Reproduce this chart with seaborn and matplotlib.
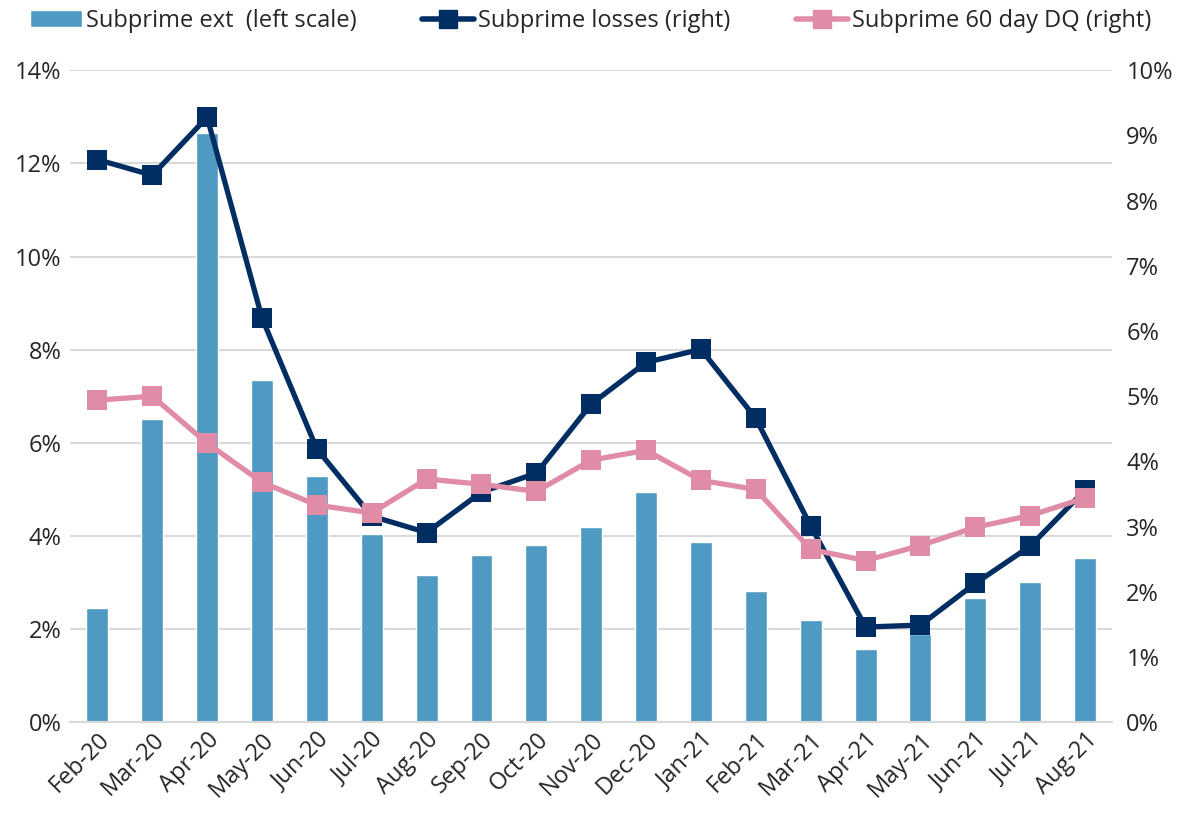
import numpy as np
import pandas as pd
import seaborn as sns
import matplotlib.pyplot as plt
from matplotlib.ticker import FuncFormatter, FixedLocator
from matplotlib.patches import Patch
from matplotlib.lines import Line2D

months = ["Feb-20", "Mar-20", "Apr-20", "May-20", "Jun-20", "Jul-20", "Aug-20",
          "Sep-20", "Oct-20", "Nov-20", "Dec-20", "Jan-21", "Feb-21", "Mar-21",
          "Apr-21", "May-21", "Jun-21", "Jul-21", "Aug-21"]
ext_pct = [2.45, 6.51, 12.65, 7.34, 5.28, 4.04, 3.16, 3.59, 3.80, 4.19, 4.94,
           3.87, 2.81, 2.19, 1.57, 1.90, 2.66, 3.01, 3.52]
loss_pct = [8.63, 8.39, 9.28, 6.20, 4.19, 3.16, 2.91, 3.53, 3.82, 4.88, 5.52,
            5.72, 4.66, 3.01, 1.46, 1.49, 2.13, 2.70, 3.56]
dq_pct = [4.94, 5.00, 4.28, 3.68, 3.33, 3.21, 3.73, 3.65, 3.54, 4.02, 4.17,
          3.71, 3.57, 2.65, 2.48, 2.71, 2.99, 3.17, 3.44]

BAR = "#4F9AC2"
NAVY = "#002D62"
PINK = "#E08CA6"

sns.set_style("white")
plt.rcParams["font.family"] = ["Open Sans", "DejaVu Sans"]

df = pd.DataFrame({"month": months, "ext": ext_pct, "loss": loss_pct,
                   "dq": dq_pct, "pos": np.arange(len(months))})

fig = plt.figure(figsize=(11.86, 8.17), dpi=100)
ax = fig.add_axes([0.059, 0.116, 0.879, 0.798])

# bars on the left scale
sns.barplot(data=df, x="month", y="ext", color=BAR, width=0.4,
            saturation=1, ax=ax, zorder=2)
ax.set_ylim(0, 14)
ax.set_yticks(range(0, 15, 2))
ax.yaxis.set_major_formatter(FuncFormatter(lambda v, p: f"{int(v)}%"))
ax.grid(axis="y", color="#D9D9D9", linewidth=1.5, zorder=0)
ax.set_axisbelow(True)
ax.set_xlim(-0.5, len(months) - 0.5)
ax.set_xlabel("")
ax.set_ylabel("")
ax.tick_params(axis="x", length=0, labelsize=17, pad=4)
ax.tick_params(axis="y", length=0, labelsize=17, pad=6)
ax.xaxis.set_minor_locator(FixedLocator(np.arange(-0.5, len(months), 1)))
ax.tick_params(axis="x", which="minor", length=9, color="#D9D9D9", width=1.5)
plt.setp(ax.get_xticklabels(), rotation=45, ha="right", rotation_mode="anchor")

# lines on the right scale
ax2 = ax.twinx()
sns.lineplot(data=df, x="pos", y="loss", color=NAVY, linewidth=3.8,
             marker="s", markersize=15, markeredgewidth=0, ax=ax2, zorder=3)
sns.lineplot(data=df, x="pos", y="dq", color=PINK, linewidth=3.8,
             marker="s", markersize=15, markeredgewidth=0, ax=ax2, zorder=4)
ax2.set_ylim(0, 10)
ax2.set_yticks(range(0, 11))
ax2.yaxis.set_major_formatter(FuncFormatter(lambda v, p: f"{int(v)}%"))
ax2.tick_params(axis="y", length=0, labelsize=17, pad=10)
ax2.set_ylabel("")
ax2.set_xlabel("")
ax2.set_xlim(-0.5, len(months) - 0.5)

for a in (ax, ax2):
    for s in ["top", "left", "right"]:
        a.spines[s].set_visible(False)
    a.spines["bottom"].set_color("#D9D9D9")
    a.spines["bottom"].set_linewidth(1.5)
ax2.spines["bottom"].set_visible(False)

handles = [
    Patch(facecolor=BAR, label="Subprime ext  (left scale)"),
    Line2D([0], [0], color=NAVY, lw=4, marker="s", markersize=13,
           label="Subprime losses (right)"),
    Line2D([0], [0], color=PINK, lw=4, marker="s", markersize=13,
           label="Subprime 60 day DQ (right)"),
]
fig.legend(handles=handles, loc="upper center", bbox_to_anchor=(0.498, 1.015),
           ncol=3, frameon=False, fontsize=17, handlelength=2.2,
           handletextpad=0.15, columnspacing=2.8)

fig.savefig("out.png", dpi=100)
